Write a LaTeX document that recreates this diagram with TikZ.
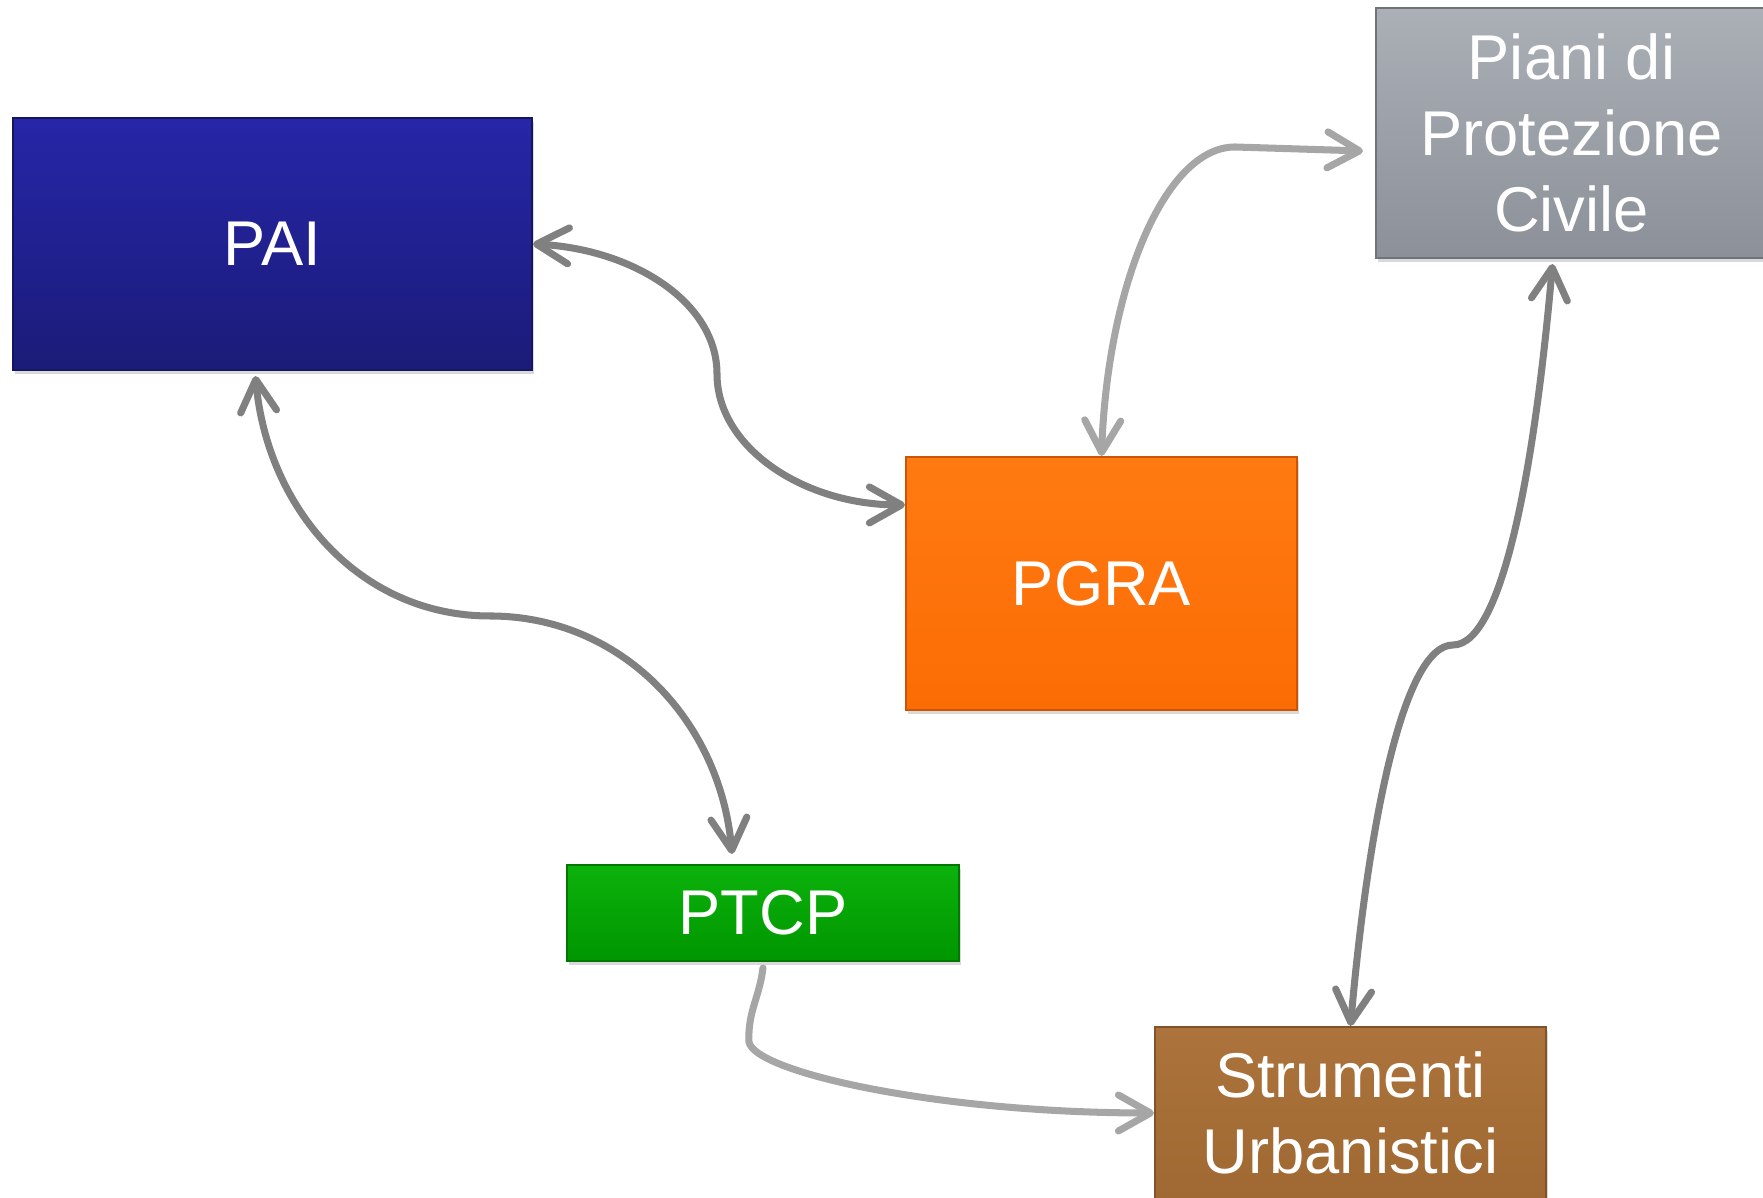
\documentclass[tikz,border=0pt]{standalone}
\usepackage{fontspec}
\setmainfont{Liberation Sans}
\usetikzlibrary{arrows.meta}
\usetikzlibrary{shadows}

\definecolor{paitop}{HTML}{2626A8}
\definecolor{paibot}{HTML}{1B1B78}
\definecolor{pianitop}{HTML}{ABAFB6}
\definecolor{pianibot}{HTML}{8C9098}
\definecolor{pgratop}{HTML}{FF7A12}
\definecolor{pgrabot}{HTML}{FC6C04}
\definecolor{ptcptop}{HTML}{0CB20C}
\definecolor{ptcpbot}{HTML}{009600}
\definecolor{strumtop}{HTML}{AC743C}
\definecolor{strumbot}{HTML}{A06832}
\definecolor{linkdark}{HTML}{808080}
\definecolor{linklight}{HTML}{A6A6A6}

\begin{document}
\begin{tikzpicture}
	\tikzstyle{box}=[rectangle, inner sep=0pt, line width=0.6pt, text=white, align=center,
	                 font=\fontsize{18}{21.6}\selectfont,
	                 drop shadow={shadow xshift=0.02cm, shadow yshift=-0.04cm, opacity=0.3}];
	\tikzstyle{darklink}=[draw=linkdark, line width=2pt, line cap=round,
	                      >={Straight Barb[round, length=0.32cm, width=0.36cm]}];
	\tikzstyle{lightlink}=[darklink, draw=linklight];
	\useasboundingbox (0,0) rectangle (17.63,11.98);

	\node[box, minimum width=5.19cm, minimum height=2.52cm, top color=paitop, bottom color=paibot,
	      draw=paibot!80!black] (pai) at (2.725,9.54) {PAI};
	\node[box, minimum width=3.91cm, minimum height=2.50cm, top color=pianitop, bottom color=pianibot,
	      draw=pianibot!80!black] (piani) at (15.715,10.65) {Piani di\\Protezione\\Civile};
	\node[box, minimum width=3.91cm, minimum height=2.53cm, top color=pgratop, bottom color=pgrabot,
	      draw=pgrabot!80!black] (pgra) at (11.015,6.145) {PGRA};
	\node[box, minimum width=3.92cm, minimum height=0.96cm, top color=ptcptop, bottom color=ptcpbot,
	      draw=ptcpbot!80!black] (ptcp) at (7.63,2.85) {PTCP};
	\node[box, minimum width=3.91cm, minimum height=1.72cm, top color=strumtop, bottom color=strumbot,
	      draw=strumbot!80!black] (strum) at (13.505,0.85) {Strumenti\\Urbanistici};

	\coordinate (m1) at (7.17,8.24);
	\coordinate (m2) at (4.90,5.82);
	\coordinate (m3) at (12.35,10.51);
	\coordinate (m4) at (14.53,5.53);
	\coordinate (m5) at (7.49,1.56);

	\draw[darklink, <->] (pai.east)
		to[out=-3, in=90, out distance=1.0cm, in distance=0.72cm] (m1)
		to[out=-90, in=180, out distance=0.73cm, in distance=1.02cm] ([yshift=-0.49cm]pgra.north west);
	\draw[darklink, <->] ([xshift=-0.17cm, yshift=-0.05cm]pai.south)
		to[out=-85, in=180] (m2)
		to[out=0, in=95] ([xshift=-0.31cm, yshift=0.1cm]ptcp.north);
	\draw[lightlink, <->] (pgra.north)
		to[out=88, in=180, out distance=1.7cm, in distance=0.7cm] (m3)
		-- ([xshift=-0.12cm, yshift=-0.18cm]piani.west);
	\draw[darklink, <->] ([xshift=-0.19cm, yshift=-0.05cm]piani.south)
		to[out=-95, in=0, out distance=2.0cm, in distance=0.5cm] (m4)
		to[out=180, in=85, out distance=0.5cm, in distance=2.0cm] (strum.north);
	\draw[lightlink, ->] ([yshift=-0.06cm]ptcp.south)
		to[out=-97, in=93] (m5)
		to[out=-80, in=180, out distance=0.3cm, in distance=2.2cm] (strum.west);
\end{tikzpicture}
\end{document}
